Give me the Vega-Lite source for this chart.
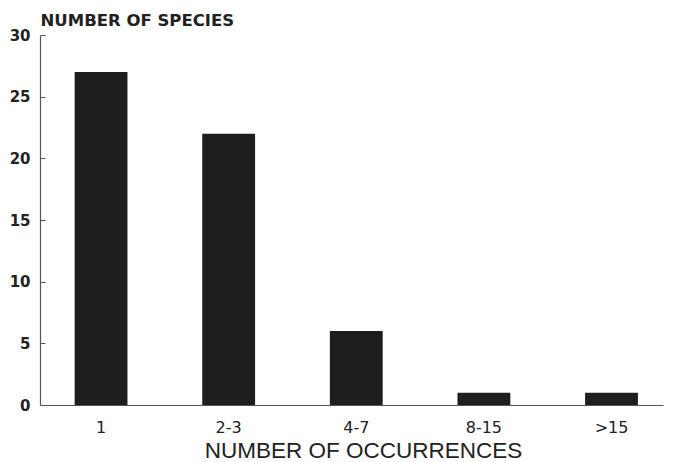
{
  "$schema": "https://vega.github.io/schema/vega-lite/v6.json",
  "width": 623,
  "height": 370,
  "autosize": "none",
  "padding": {"left": 40, "top": 35, "right": 11, "bottom": 57},
  "background": "white",
  "config": {
    "view": {"stroke": null},
    "font": "Liberation Sans"
  },
  "data": {
    "values": [
      {"occ": "1", "species": 27},
      {"occ": "2-3", "species": 22},
      {"occ": "4-7", "species": 6},
      {"occ": "8-15", "species": 1},
      {"occ": ">15", "species": 1}
    ]
  },
  "mark": {"type": "bar", "color": "#1e1e1e"},
  "encoding": {
    "x": {
      "field": "occ",
      "type": "nominal",
      "sort": null,
      "scale": {"paddingInner": 0.586, "paddingOuter": 0.234, "align": 0.58},
      "axis": {
        "title": "NUMBER OF OCCURRENCES",
        "titleFont": "Liberation Sans",
        "titleFontSize": 22.5,
        "titleFontWeight": "normal",
        "titleColor": "#222",
        "titleAlign": "center",
        "titleBaseline": "alphabetic",
        "titleX": 323,
        "titleY": 52,
        "labelAngle": 0,
        "labelFont": "DejaVu Sans",
        "labelFontSize": 16,
        "labelColor": "#222",
        "labelPadding": 14,
        "ticks": false,
        "domainColor": "#555",
        "domainWidth": 1.2,
        "grid": false
      }
    },
    "y": {
      "field": "species",
      "type": "quantitative",
      "scale": {"domain": [0, 30], "nice": false},
      "axis": {
        "title": "NUMBER OF SPECIES",
        "titleAngle": 0,
        "titleAlign": "left",
        "titleBaseline": "alphabetic",
        "titleX": 0,
        "titleY": -10,
        "titleFont": "DejaVu Sans",
        "titleFontSize": 16.5,
        "titleFontWeight": "bold",
        "titleColor": "#222",
        "values": [0, 5, 10, 15, 20, 25, 30],
        "labelFont": "DejaVu Sans",
        "labelFontSize": 15,
        "labelFontWeight": "bold",
        "labelColor": "#222",
        "tickSize": -5,
        "tickColor": "#555",
        "labelPadding": 15,
        "domainColor": "#555",
        "domainWidth": 1.2,
        "grid": false
      }
    }
  }
}
